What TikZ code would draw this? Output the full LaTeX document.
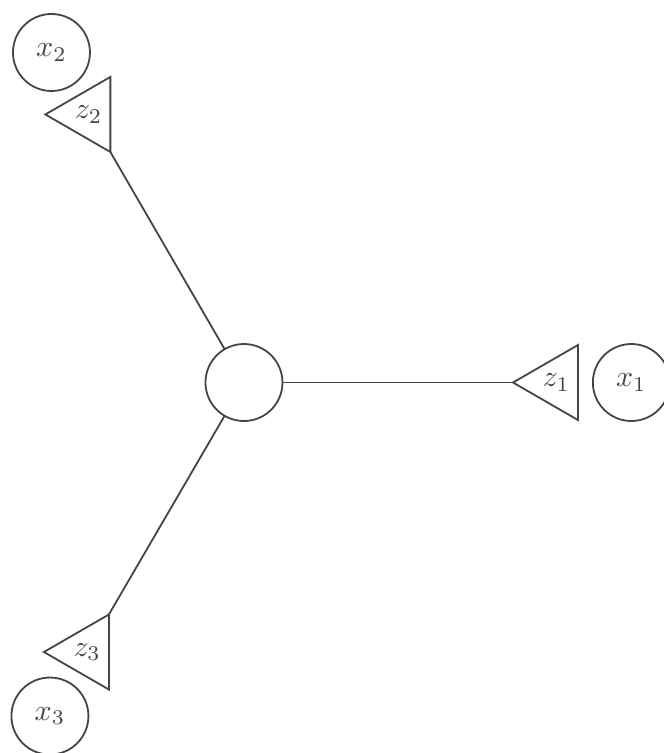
\documentclass[tikz,border=0pt]{standalone}
\usepackage{amsmath}
\usepackage{tikz}
\usetikzlibrary{shapes.geometric}
\definecolor{fgink}{HTML}{454545}
\tikzset{
  fgvar/.style={draw=fgink, circle, minimum size=9.02mm, inner sep=0pt,
                outer sep=0pt, text=fgink, line width=0.6pt},
  fgfactor/.style={draw=fgink, regular polygon, regular polygon sides=3,
                   shape border rotate=90, minimum size=10.15mm, inner sep=0pt,
                   outer sep=0pt, text=fgink, line width=0.6pt},
  fgedge/.style={draw=fgink, line width=0.6pt},
}
\begin{document}
\begin{tikzpicture}[x=1mm,y=1mm]
  \useasboundingbox (-28.58,-43.40) rectangle (49.20,44.81);
  \node[fgvar] (c) at (0,0) {};
  % factors, all pointing left
  \node[fgfactor] (z1) at ( 36.59,  0.00) {$z_1$};
  \node[fgfactor] (z2) at (-18.19, 31.40) {$z_2$};
  \node[fgfactor] (z3) at (-18.36,-31.57) {$z_3$};
  % observed variables
  \node[fgvar] (x1) at ( 45.38,  0.00) {$x_1$};
  \node[fgvar] (x2) at (-22.55, 38.66) {$x_2$};
  \node[fgvar] (x3) at (-22.73,-39.07) {$x_3$};
  \draw[fgedge] (c) -- (z1.corner 1);
  \draw[fgedge] (c) -- (z2.corner 2);
  \draw[fgedge] (c) -- (z3.corner 3);
\end{tikzpicture}
\end{document}
